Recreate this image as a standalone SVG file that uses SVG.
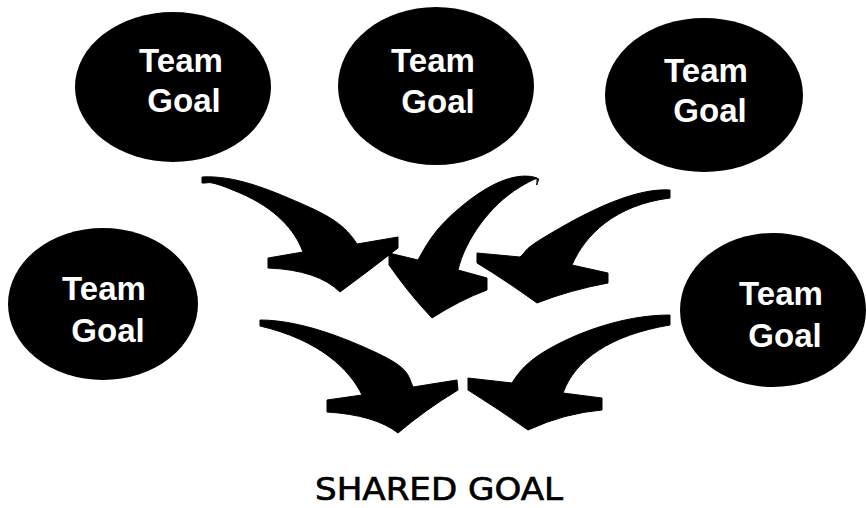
<svg xmlns="http://www.w3.org/2000/svg" width="866" height="508" viewBox="0 0 866 508">
<style>
.node ellipse{fill:#000}
.node text{fill:#fff;font-family:"Liberation Sans",Arial,sans-serif;font-weight:bold;font-size:33px;text-anchor:middle}
.arrow{fill:#000;stroke:#000;stroke-width:1;stroke-linejoin:round}
.title{fill:#000;stroke:#000;stroke-width:0.7;font-family:"DejaVu Sans","Liberation Sans",sans-serif;font-size:32px;text-anchor:middle}
</style>
<rect width="866" height="508" fill="#fff"/>
<g id="goal1" class="node">
<ellipse cx="173" cy="87" rx="98" ry="75"/>
<text x="181" y="72">Team</text>
<text x="184" y="112">Goal</text>
</g>
<g id="goal2" class="node">
<ellipse cx="436" cy="86" rx="98" ry="79"/>
<text x="433" y="72">Team</text>
<text x="438" y="113">Goal</text>
</g>
<g id="goal3" class="node">
<ellipse cx="704" cy="95" rx="99" ry="77"/>
<text x="706" y="82">Team</text>
<text x="710" y="122">Goal</text>
</g>
<g id="goal4" class="node">
<ellipse cx="103" cy="304" rx="95" ry="76"/>
<text x="104" y="300">Team</text>
<text x="108" y="342">Goal</text>
</g>
<g id="goal5" class="node">
<ellipse cx="773" cy="310" rx="93" ry="77"/>
<text x="781" y="305">Team</text>
<text x="785" y="347">Goal</text>
</g>
<g id="connectors">
<path class="arrow" d="M202,177 C235,175 270,190 300,203 S345,225 357,244 L398,237 L398,248 Q370,270 340,292 Q318,270 268,268 L268,258 L303,252 C295,230 275,208 240,193 S210,184 202,183 Z"/>
<path class="arrow" d="M537,178 C520,172 495,180 467,202 S430,238 418,260 L389,253 L389,265 Q410,295 432,318 Q460,300 487,290 L487,278 L458,270 C465,240 490,205 520,187 S534,185 537,185 Z"/>
<path class="arrow" d="M670,190 C640,188 600,205 560,228 S530,248 520,257 L477,253 L477,263 Q505,280 537,303 Q570,290 608,283 L608,273 L572,265 C585,235 615,205 670,198 Z"/>
<path class="arrow" d="M260,320 C300,320 345,338 377,353 S408,375 413,387 L457,380 L458,390 Q425,410 398,433 Q375,415 327,412 L327,400 L362,395 C350,370 320,340 260,326 Z"/>
<path class="arrow" d="M670,315 C630,315 590,328 560,343 S520,370 512,383 L468,378 L468,390 Q500,410 528,430 Q565,413 602,410 L602,398 L563,393 C575,360 610,335 670,325 Z"/>
</g>
<text class="title" x="439" y="500" textLength="248" lengthAdjust="spacingAndGlyphs">SHARED GOAL</text>
</svg>
